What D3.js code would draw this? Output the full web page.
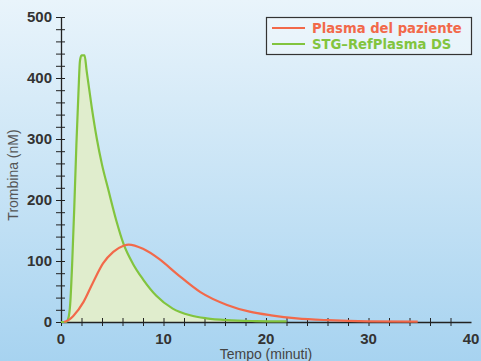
<!DOCTYPE html>
<html>
<head>
<meta charset="utf-8">
<script src="https://cdn.jsdelivr.net/npm/d3@7"></script>
<style>
  html, body { margin: 0; padding: 0; overflow: hidden; }
  svg { display: block; }
</style>
</head>
<body>
<div id="chart"></div>
<script>
// data
const greenTime = [0, 0.5, 0.7, 0.9, 1.1, 1.3, 1.5, 1.7, 1.85, 2.0, 2.3, 2.5, 3.0, 3.5, 4.0, 4.6, 5.4, 6.1, 7.0, 8.0, 9.3, 10.9, 12.6, 14.2, 16.2, 19, 22]
const greenValue = [0, 0, 5, 30, 100, 190, 290, 375, 428, 437, 437, 412, 352, 300, 258, 218, 166, 128, 96, 70, 43, 22, 11, 6, 3, 1.5, 1]

const redTime = [0.3, 0.8, 1.2, 2.2, 3.1, 4.1, 5.1, 6.1, 6.6, 8.0, 9.6, 11.3, 13.6, 16.2, 18.4, 20.5, 23, 26, 30, 34.8]
const redValue = [0, 4, 10, 33, 64, 96, 115, 125, 127, 120, 103, 79, 49, 28, 17, 11, 6, 3, 1, 0.5]

const seriesNames = ['Plasma del paziente', 'STG\u2013RefPlasma DS']
const xTickLabels = [0, 10, 20, 30, 40]
const yTickLabels = [0, 100, 200, 300, 400, 500]

const width = 481, height = 361
const red = '#f2694a', green = '#82c43e'

const svg = d3.select('#chart').append('svg')
    .attr('width', width)
    .attr('height', height)
    .attr('font-family', 'Liberation Sans, Arial, sans-serif')

const grad = svg.append('defs').append('linearGradient')
    .attr('id', 'bg')
    .attr('x1', 0).attr('y1', 0).attr('x2', 0).attr('y2', 1)
grad.append('stop').attr('offset', '0%').attr('stop-color', '#e9f4fb')
grad.append('stop').attr('offset', '100%').attr('stop-color', '#a7d3f0')

svg.append('rect')
    .attr('width', width)
    .attr('height', height)
    .attr('fill', 'url(#bg)')

const x = d3.scaleLinear().domain([0, 40]).range([61, 471])
const y = d3.scaleLinear().domain([0, 500]).range([322, 17])

const greenData = greenTime.map((t, i) => ({t: t, v: greenValue[i]}))
const redData = redTime.map((t, i) => ({t: t, v: redValue[i]}))

// green filled area
svg.append('path')
    .datum(greenData)
    .attr('fill', '#e0edcd')
    .attr('d', d3.area()
        .x(d => x(d.t))
        .y0(y(0))
        .y1(d => y(d.v))
        .curve(d3.curveMonotoneX))

// axes
const gx = svg.append('g')
    .attr('transform', `translate(0,${y(0)})`)
    .call(d3.axisBottom(x).tickValues(d3.range(0, 39, 2)).tickSize(0).tickFormat(''))
gx.select('.domain').attr('stroke', '#222').attr('stroke-width', 1.3)
gx.selectAll('.tick line')
    .attr('stroke', '#222')
    .attr('y1', -4)
    .attr('y2', 4)

const gy = svg.append('g')
    .attr('transform', `translate(${x(0)},0)`)
    .call(d3.axisLeft(y).tickValues(d3.range(0, 501, 20)).tickSize(0).tickFormat(''))
gy.select('.domain').attr('stroke', '#222').attr('stroke-width', 1.3)
gy.selectAll('.tick line')
    .attr('stroke', '#222')
    .attr('x1', -5)
    .attr('x2', 4)

svg.append('g').selectAll('text')
    .data(xTickLabels)
    .join('text')
    .attr('x', d => x(d))
    .attr('y', y(0) + 22)
    .attr('text-anchor', 'middle')
    .attr('font-size', 15)
    .attr('font-weight', 'bold')
    .attr('fill', '#333')
    .text(d => d)

svg.append('g').selectAll('text')
    .data(yTickLabels)
    .join('text')
    .attr('x', x(0) - 9)
    .attr('y', d => y(d) + 5)
    .attr('text-anchor', 'end')
    .attr('font-size', 15)
    .attr('font-weight', 'bold')
    .attr('fill', '#333')
    .text(d => d)

// lines
const line = d3.line()
    .x(d => x(d.t))
    .y(d => y(d.v))
    .curve(d3.curveMonotoneX)

svg.append('path')
    .datum(greenData)
    .attr('fill', 'none')
    .attr('stroke', green)
    .attr('stroke-width', 2.2)
    .attr('d', line)

svg.append('path')
    .datum(redData)
    .attr('fill', 'none')
    .attr('stroke', red)
    .attr('stroke-width', 2.2)
    .attr('d', line)

// axis titles
svg.append('text')
    .attr('transform', 'translate(18,175) rotate(-90)')
    .attr('text-anchor', 'middle')
    .attr('font-size', 14)
    .attr('fill', '#555')
    .text('Trombina (nM)')

svg.append('text')
    .attr('x', 266)
    .attr('y', 359)
    .attr('text-anchor', 'middle')
    .attr('font-size', 14)
    .attr('fill', '#444')
    .text('Tempo (minuti)')

// legend
const legend = svg.append('g')
legend.append('rect')
    .attr('x', 266.5)
    .attr('y', 17.5)
    .attr('width', 205)
    .attr('height', 37)
    .attr('fill', 'rgba(255,255,255,0.25)')
    .attr('stroke', '#333')
    .attr('stroke-width', 1.2)

const legendColors = [red, green]
seriesNames.forEach((name, i) => {
    const ly = 28 + i * 16
    legend.append('line')
        .attr('x1', 272).attr('x2', 305)
        .attr('y1', ly).attr('y2', ly)
        .attr('stroke', legendColors[i])
        .attr('stroke-width', 2)
    legend.append('text')
        .attr('x', 312)
        .attr('y', ly + 5)
        .attr('font-family', 'DejaVu Sans, sans-serif')
        .attr('font-size', 13.2)
        .attr('font-weight', 'bold')
        .attr('fill', legendColors[i])
        .text(name)
})
</script>
</body>
</html>
